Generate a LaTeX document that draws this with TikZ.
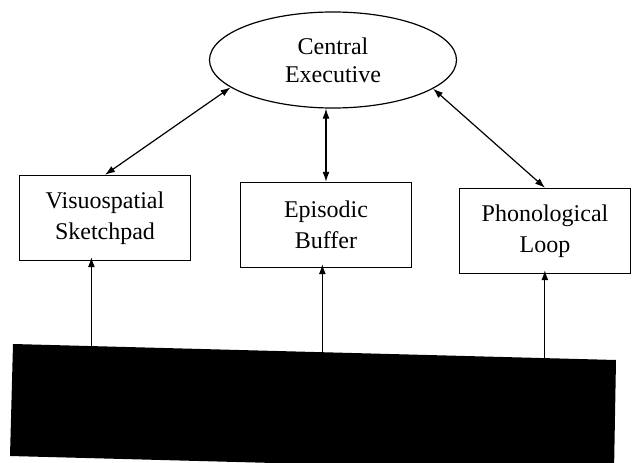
\documentclass[tikz,border=0pt]{standalone}
\usepackage{fontspec}
\setmainfont{Liberation Serif}
\usetikzlibrary{shapes.geometric,arrows.meta,calc}

\begin{document}
\begin{tikzpicture}[x=1pt,y=-1pt,
	box/.style={draw,line width=1.4pt,minimum width=171pt,minimum height=85pt,inner sep=0pt,align=center,font=\fontsize{24}{31}\selectfont},
	link/.style={line width=1.2pt,-{Latex[length=10pt,width=7pt]}},
	twoway/.style={line width=1.2pt,{Latex[length=10pt,width=7pt]}-{Latex[length=10pt,width=7pt]}}]
	\useasboundingbox (0,0) rectangle (632,463);
	\node[draw,ellipse,line width=1.2pt,minimum width=247pt,minimum height=96pt,inner sep=0pt,align=center,font=\fontsize{24}{28}\selectfont] (ce) at (333,60) {Central\\Executive};
	\node[box] (vs) at (105,218) {Visuospatial\\Sketchpad};
	\node[box] (eb) at (326,225) {Episodic\\Buffer};
	\node[box] (pl) at (545,231) {Phonological\\Loop};
	\coordinate (bar-nw) at (13,344);
	\coordinate (bar-ne) at (616,360);
	\fill (bar-nw) -- (bar-ne) -- (614,472) -- (10,456) -- cycle;
	\draw[twoway] (ce.195) -- (vs.north);
	\draw[twoway] (ce.344) -- (pl.north);
	\draw[twoway] (eb.north |- ce.south) -- (eb.north);
	\foreach \n/\f in {vs/0.13,eb/0.513,pl/0.882} {
		\coordinate (\n-in) at ($(bar-nw)!\f!(bar-ne)$);
		\draw[link] (\n-in) -- ([yshift=4pt]\n-in |- \n.south);
	}
\end{tikzpicture}
\end{document}
